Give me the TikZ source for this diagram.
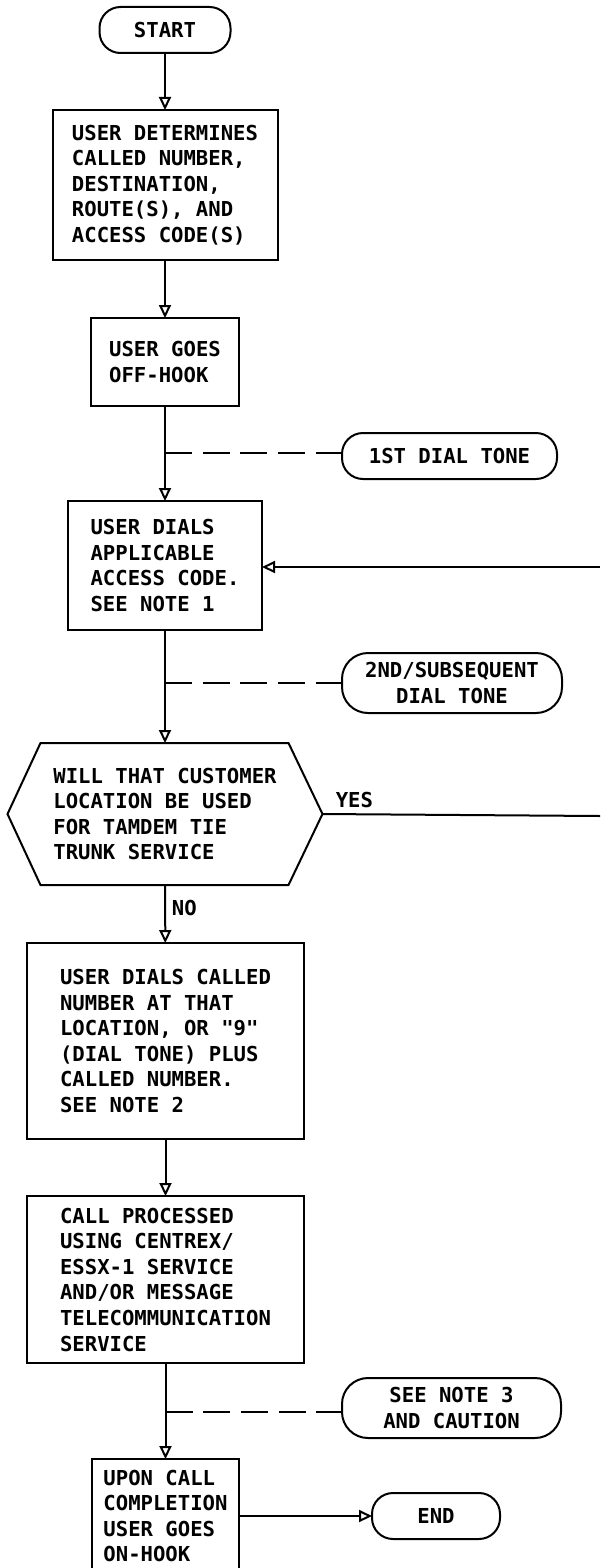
\documentclass[tikz,border=0pt]{standalone}
\usepackage{fontspec}
\newfontfamily\lettering{DejaVu Sans Mono}
\usetikzlibrary{arrows.meta}

\begin{document}
\begin{tikzpicture}[x=0.5pt,y=-0.5pt,line width=1pt,
    >={Triangle[open,width=6pt,length=6.5pt]},
    every node/.style={font=\lettering\bfseries\fontsize{10.3}{12.8}\selectfont,outer sep=0pt},
    stepbox/.style={draw,rectangle,align=left,inner sep=0pt},
    pill/.style={draw,rectangle,rounded corners=10.5pt,align=center,inner sep=0pt},
    toneline/.style={dash pattern=on 13.5pt off 5.35pt}]
  \useasboundingbox (0,0) rectangle (600,1568);

  % main column
  \node[pill,minimum width=65.5pt,minimum height=23pt] (start) at (165,30) {START};
  \node[stepbox,minimum width=112.5pt,minimum height=75pt] (determine) at (165,185)
    {USER DETERMINES\\CALLED NUMBER,\\DESTINATION,\\ROUTE(S), AND\\ACCESS CODE(S)};
  \node[stepbox,minimum width=74pt,minimum height=44pt] (offhook) at (165,362)
    {USER GOES\\OFF-HOOK};
  \node[stepbox,minimum width=97pt,minimum height=64.5pt] (access) at (165,565.5)
    {USER DIALS\\APPLICABLE\\ACCESS CODE.\\SEE NOTE 1};
  \node[align=left,inner sep=0pt,minimum width=157.5pt,minimum height=71pt] (decide) at (165,814)
    {WILL THAT CUSTOMER\\LOCATION BE USED\\FOR TAMDEM TIE\\TRUNK SERVICE};
  \node[stepbox,minimum width=138.5pt,minimum height=98pt] (number) at (165.5,1041)
    {USER DIALS CALLED\\NUMBER AT THAT\\LOCATION, OR "9"\\(DIAL TONE) PLUS\\CALLED NUMBER.\\SEE NOTE 2};
  \node[stepbox,minimum width=138.5pt,minimum height=83.5pt] (process) at (165.5,1279.5)
    {CALL PROCESSED\\USING CENTREX/\\ESSX-1 SERVICE\\AND/OR MESSAGE\\TELECOMMUNICATION\\SERVICE};
  \node[stepbox,minimum width=73.5pt,minimum height=57pt] (onhook) at (165.5,1516)
    {UPON CALL\\COMPLETION\\USER GOES\\ON-HOOK};

  % side notes
  \node[pill,minimum width=107.5pt,minimum height=23pt] (tone1) at (449.5,456) {1ST DIAL TONE};
  \node[pill,minimum width=110pt,minimum height=30pt,rounded corners=13pt] (tone2) at (452,683) {2ND/SUBSEQUENT\\DIAL TONE};
  \node[pill,minimum width=109.5pt,minimum height=30pt,rounded corners=13pt] (note3) at (451.5,1408) {SEE NOTE 3\\AND CAUTION};
  \node[pill,minimum width=64pt,minimum height=23pt] (finish) at (436,1516) {END};

  % hexagon round the question
  \draw ([xshift=16.5pt]decide.north west) -- ([xshift=-17pt]decide.north east) -- (decide.east)
    -- ([xshift=-17pt]decide.south east) -- ([xshift=16.5pt]decide.south west) -- (decide.west) -- cycle;

  \coordinate (backin) at (600,567);
  \coordinate (yesout) at (600,816);

  \draw[->] (start) -- (determine);
  \draw[->] (determine) -- (offhook);
  \draw[->] (offhook) -- (access);
  \draw[->] (access) -- (decide);
  \draw[->] (decide) -- node[right,pos=0.4] (no) {NO} (number);
  \draw (decide.east) -- node[above,pos=0.115] (yes) {YES} (yesout);
  \draw[->] (backin) -- (backin -| access.east);
  \draw[->] (number) -- (process);
  \draw[->] (process) -- (onhook);
  \draw[->] (onhook) -- (finish);

  \draw[toneline] (offhook |- 0,453) -- (tone1.west |- 0,453);
  \draw[toneline] (access |- tone2.west) -- (tone2.west);
  \draw[toneline] (process |- 0,1412) -- (note3.west |- 0,1412);
\end{tikzpicture}
\end{document}
